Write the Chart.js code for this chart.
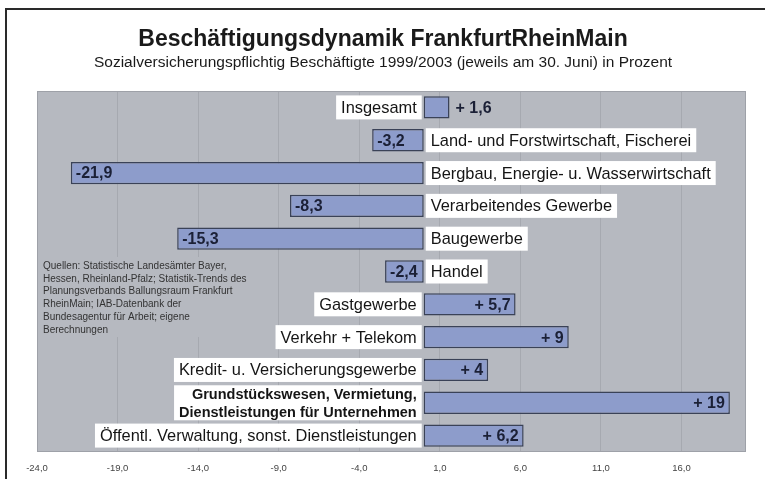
<!DOCTYPE html>
<html><head><meta charset="utf-8">
<script src="https://cdn.jsdelivr.net/npm/chart.js@4/dist/chart.umd.min.js"></script>
<style>html,body{margin:0;padding:0;background:#fff}#wrap{position:absolute;left:0;top:0;width:765px;height:479px}</style>
</head><body><div id="wrap"><canvas id="c" width="765" height="479"></canvas></div>
<script>
const title = "Beschäftigungsdynamik FrankfurtRheinMain";
const subtitle = "Sozialversicherungspflichtig Beschäftigte 1999/2003 (jeweils am 30. Juni) in Prozent";
const categories = [
  "Insgesamt",
  "Land- und Forstwirtschaft, Fischerei",
  "Bergbau, Energie- u. Wasserwirtschaft",
  "Verarbeitendes Gewerbe",
  "Baugewerbe",
  "Handel",
  "Gastgewerbe",
  "Verkehr + Telekom",
  "Kredit- u. Versicherungsgewerbe",
  ["Grundstückswesen, Vermietung,", "Dienstleistungen für Unternehmen"],
  "Öffentl. Verwaltung, sonst. Dienstleistungen"
];
const values = [1.6, -3.2, -21.9, -8.3, -15.3, -2.4, 5.7, 9, 4, 19, 6.2];
const xTicks = [-24, -19, -14, -9, -4, 1, 6, 11, 16];
const xMin = -24, xMax = 20;
const sourceNote = [
  "Quellen: Statistische Landesämter Bayer,",
  "Hessen, Rheinland-Pfalz; Statistik-Trends des",
  "Planungsverbands Ballungsraum Frankfurt",
  "RheinMain; IAB-Datenbank der",
  "Bundesagentur für Arbeit; eigene",
  "Berechnungen"
];

const FONT = '"Liberation Sans", Arial, Helvetica, sans-serif';
const PLOT_BG = '#b6b9c0';
const fmt = x => String(x).replace('.', ',');
const valueText = v => v > 0 ? '+ ' + fmt(v) : '-' + fmt(-v);

const decor = {
  id: 'decor',
  beforeDraw(chart) {
    const ctx = chart.ctx, a = chart.chartArea;
    ctx.save();
    ctx.fillStyle = '#fff';
    ctx.fillRect(0, 0, chart.width, chart.height);
    ctx.strokeStyle = '#2a2a2a';
    ctx.lineWidth = 2;
    ctx.beginPath();
    ctx.moveTo(6, chart.height);
    ctx.lineTo(6, 9);
    ctx.lineTo(chart.width, 9);
    ctx.stroke();
    ctx.fillStyle = '#1a1a1a';
    ctx.textAlign = 'center';
    ctx.textBaseline = 'middle';
    ctx.font = 'bold 23px ' + FONT;
    ctx.fillText(title, 383, 40);
    ctx.font = '15.5px ' + FONT;
    ctx.fillText(subtitle, 383, 63);
    ctx.fillStyle = PLOT_BG;
    ctx.fillRect(a.left, a.top, a.right - a.left, a.bottom - a.top);
    ctx.restore();
  },
  beforeDatasetsDraw(chart) {
    const ctx = chart.ctx, a = chart.chartArea;
    ctx.save();
    ctx.fillStyle = PLOT_BG;
    ctx.fillRect(a.left + 2, 257, 225, 80);
    ctx.fillStyle = '#333';
    ctx.font = '10px ' + FONT;
    ctx.textAlign = 'left';
    ctx.textBaseline = 'middle';
    sourceNote.forEach((l, k) => ctx.fillText(l, 43, 266 + k * 12.8));
    ctx.strokeStyle = '#9ea1a8';
    ctx.lineWidth = 1;
    ctx.strokeRect(a.left + 0.5, a.top + 0.5, a.right - a.left - 1, a.bottom - a.top - 1);
    ctx.restore();
  },
  afterDatasetsDraw(chart) {
    const ctx = chart.ctx;
    const meta = chart.getDatasetMeta(0);
    const zero = chart.scales.x.getPixelForValue(0);
    ctx.save();
    meta.data.forEach((bar, i) => {
      const v = values[i];
      const y = bar.y;
      const lab = categories[i];
      const lines = Array.isArray(lab) ? lab : [lab];
      const multi = lines.length > 1;
      ctx.font = multi ? 'bold 14.5px ' + FONT : '16.4px ' + FONT;
      const lh = 18;
      const tw = Math.max(...lines.map(l => ctx.measureText(l).width));
      const padX = 5;
      const boxW = tw + 2 * padX;
      const boxH = multi ? 35 : 24;
      const bx = v < 0 ? zero + 2 : zero - 2 - boxW;
      ctx.fillStyle = '#fff';
      ctx.fillRect(bx, y - boxH / 2, boxW, boxH);
      ctx.fillStyle = '#151515';
      ctx.textBaseline = 'middle';
      ctx.textAlign = v < 0 ? 'left' : 'right';
      const tx = v < 0 ? bx + padX : bx + boxW - padX;
      lines.forEach((l, k) => ctx.fillText(l, tx, y + 1 + (k - (lines.length - 1) / 2) * lh));
      const s = valueText(v);
      ctx.font = 'bold 16px ' + FONT;
      ctx.fillStyle = '#1b2036';
      const w = ctx.measureText(s).width;
      const left = Math.min(bar.x, bar.base), right = Math.max(bar.x, bar.base);
      if (w + 8 <= right - left) {
        if (v < 0) { ctx.textAlign = 'left'; ctx.fillText(s, left + 5, y + 1); }
        else { ctx.textAlign = 'right'; ctx.fillText(s, right - 5, y + 1); }
      } else {
        if (v > 0) { ctx.textAlign = 'left'; ctx.fillText(s, right + 6, y + 1); }
        else { ctx.textAlign = 'right'; ctx.fillText(s, left - 6, y + 1); }
      }
    });
    ctx.restore();
  }
};

new Chart(document.getElementById('c'), {
  type: 'bar',
  data: {
    labels: categories,
    datasets: [{
      data: values,
      backgroundColor: '#8d9ccb',
      borderColor: '#3a4257',
      borderWidth: 1.5,
      borderSkipped: false,
      barPercentage: 0.68,
      categoryPercentage: 1.0
    }]
  },
  options: {
    indexAxis: 'y',
    responsive: false,
    animation: false,
    devicePixelRatio: 1,
    layout: { padding: { left: 37, right: 19, top: 91, bottom: 5 } },
    plugins: { legend: { display: false }, tooltip: { enabled: false }, title: { display: false } },
    scales: {
      x: {
        type: 'linear',
        min: xMin,
        max: xMax,
        afterBuildTicks: s => { s.ticks = xTicks.map(v => ({ value: v })); },
        afterFit: s => { s.height = 22; },
        ticks: {
          autoSkip: false,
          maxRotation: 0,
          padding: 11,
          color: '#444',
          font: { size: 9.5, family: FONT },
          callback: v => Number(v).toFixed(1).replace('.', ',')
        },
        grid: { color: '#a6a9b0', lineWidth: 1, drawTicks: false },
        border: { display: false }
      },
      y: {
        type: 'category',
        display: false
      }
    }
  },
  plugins: [decor]
});
</script>
</body></html>
